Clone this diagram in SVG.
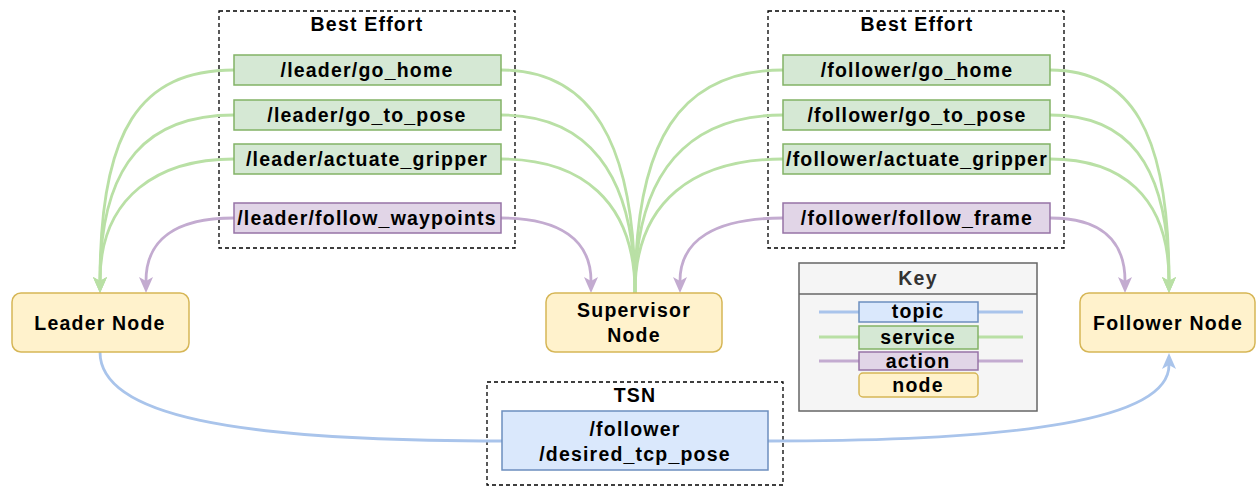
<svg xmlns="http://www.w3.org/2000/svg" width="1256" height="486" viewBox="0 0 1256 486">
<defs>
<style>
.t{font-family:"Liberation Sans",Arial,sans-serif;font-weight:bold;font-size:19.5px;letter-spacing:1.2px;fill:#000;text-anchor:middle}
.grp{fill:none;stroke:#000;stroke-width:1.3;stroke-dasharray:4 3}
.svc{fill:#d5e8d4;stroke:#82b366;stroke-width:1.5}
.act{fill:#e1d5e7;stroke:#9673a6;stroke-width:1.5}
.top{fill:#dae8fc;stroke:#6c8ebf;stroke-width:1.5}
.nd{fill:#fff2cc;stroke:#d6b656;stroke-width:1.5}
.cg{fill:none;stroke:#b9e0a5;stroke-width:2.8}
.cp{fill:none;stroke:#c3abd0;stroke-width:2.8}
.cb{fill:none;stroke:#a9c4eb;stroke-width:2.8}
</style>
<marker id="ag" markerUnits="userSpaceOnUse" markerWidth="17" markerHeight="15" refX="4" refY="7" orient="auto"><path d="M0,0 L16,7 L0,14 L4,7 Z" fill="#b9e0a5"/></marker>
<marker id="ap" markerUnits="userSpaceOnUse" markerWidth="17" markerHeight="15" refX="4" refY="7" orient="auto"><path d="M0,0 L16,7 L0,14 L4,7 Z" fill="#c3abd0"/></marker>
<marker id="ab" markerUnits="userSpaceOnUse" markerWidth="17" markerHeight="15" refX="4" refY="7" orient="auto"><path d="M0,0 L16,7 L0,14 L4,7 Z" fill="#a9c4eb"/></marker>
</defs>
<rect width="1256" height="486" fill="#fff"/>

<g id="group-left">
<rect class="grp" x="219" y="11" width="296" height="237"/>
<text class="t" x="367" y="31">Best Effort</text>
</g>
<g id="group-right">
<rect class="grp" x="768" y="11" width="296" height="237"/>
<text class="t" x="917" y="31">Best Effort</text>
</g>
<g id="group-tsn">
<rect class="grp" x="487" y="382" width="296" height="103"/>
<text class="t" x="635" y="402">TSN</text>
</g>

<g id="connectors">
<path class="cg" d="M234,70 C140,70 100,130 100,281" marker-end="url(#ag)"/>
<path class="cg" d="M234,115 C150,115 100,160 100,281" marker-end="url(#ag)"/>
<path class="cg" d="M234,159 C160,159 100,195 100,281" marker-end="url(#ag)"/>
<path class="cp" d="M234,218 C175,218 146,240 146,281" marker-end="url(#ap)"/>
<path class="cg" d="M635,293 C635,140 590,70 501,70"/>
<path class="cg" d="M635,293 C635,170 585,115 501,115"/>
<path class="cg" d="M635,293 C635,200 580,159 501,159"/>
<path class="cg" d="M635,293 C635,140 680,70 783,70"/>
<path class="cg" d="M635,293 C635,170 690,115 783,115"/>
<path class="cg" d="M635,293 C635,200 695,159 783,159"/>
<path class="cp" d="M501,218 C560,218 591,240 591,281" marker-end="url(#ap)"/>
<path class="cp" d="M783,218 C715,218 680,240 680,281" marker-end="url(#ap)"/>
<path class="cg" d="M1050,70 C1130,70 1169,130 1169,281" marker-end="url(#ag)"/>
<path class="cg" d="M1050,115 C1125,115 1169,160 1169,281" marker-end="url(#ag)"/>
<path class="cg" d="M1050,159 C1120,159 1169,195 1169,281" marker-end="url(#ag)"/>
<path class="cp" d="M1050,218 C1100,218 1125,240 1125,281" marker-end="url(#ap)"/>
<path class="cb" d="M100,352 C100,415 230,441 502,441"/>
<path class="cb" d="M768,441 C1020,441 1169,420 1169,365" marker-end="url(#ab)"/>
</g>

<g id="leader-go-home"><rect class="svc" x="234" y="55" width="267" height="30"/><text class="t" x="367" y="77">/leader/go_home</text></g>
<g id="leader-go-to-pose"><rect class="svc" x="234" y="100" width="267" height="30"/><text class="t" x="367" y="122">/leader/go_to_pose</text></g>
<g id="leader-actuate-gripper"><rect class="svc" x="234" y="144" width="267" height="30"/><text class="t" x="367" y="166">/leader/actuate_gripper</text></g>
<g id="leader-follow-waypoints"><rect class="act" x="234" y="203" width="267" height="30"/><text class="t" x="367" y="225">/leader/follow_waypoints</text></g>

<g id="follower-go-home"><rect class="svc" x="783" y="55" width="267" height="30"/><text class="t" x="917" y="77">/follower/go_home</text></g>
<g id="follower-go-to-pose"><rect class="svc" x="783" y="100" width="267" height="30"/><text class="t" x="917" y="122">/follower/go_to_pose</text></g>
<g id="follower-actuate-gripper"><rect class="svc" x="783" y="144" width="267" height="30"/><text class="t" x="917" y="166">/follower/actuate_gripper</text></g>
<g id="follower-follow-frame"><rect class="act" x="783" y="203" width="267" height="30"/><text class="t" x="917" y="225">/follower/follow_frame</text></g>

<g id="leader-node"><rect class="nd" x="12" y="293" width="177" height="59" rx="9"/><text class="t" x="100" y="330">Leader Node</text></g>
<g id="supervisor-node"><rect class="nd" x="546" y="293" width="176" height="59" rx="9"/><text class="t" x="634" y="317">Supervisor</text><text class="t" x="634" y="342">Node</text></g>
<g id="follower-node"><rect class="nd" x="1080" y="293" width="175" height="59" rx="9"/><text class="t" x="1168" y="330">Follower Node</text></g>

<g id="tcp-pose-topic"><rect class="top" x="502" y="411" width="266" height="59"/><text class="t" x="635" y="436">/follower</text><text class="t" x="635" y="461">/desired_tcp_pose</text></g>

<g id="key">
<rect x="799" y="263" width="238" height="148" fill="#f5f5f5" stroke="#666" stroke-width="1.5"/>
<line x1="799" y1="294" x2="1037" y2="294" stroke="#666" stroke-width="1.5"/>
<text class="t" x="918" y="285" style="fill:#333">Key</text>
<line x1="819" y1="312" x2="1023" y2="312" stroke="#a9c4eb" stroke-width="2.8"/>
<line x1="819" y1="337" x2="1023" y2="337" stroke="#b9e0a5" stroke-width="2.8"/>
<line x1="819" y1="361" x2="1023" y2="361" stroke="#c3abd0" stroke-width="2.8"/>
<rect class="top" x="859" y="302" width="119" height="20"/><text class="t" x="918" y="318">topic</text>
<rect class="svc" x="859" y="326" width="119" height="23"/><text class="t" x="918" y="344">service</text>
<rect class="act" x="859" y="352" width="119" height="18"/><text class="t" x="918" y="368">action</text>
<rect class="nd" x="859" y="373" width="119" height="24" rx="4"/><text class="t" x="918" y="392">node</text>
</g>
</svg>
